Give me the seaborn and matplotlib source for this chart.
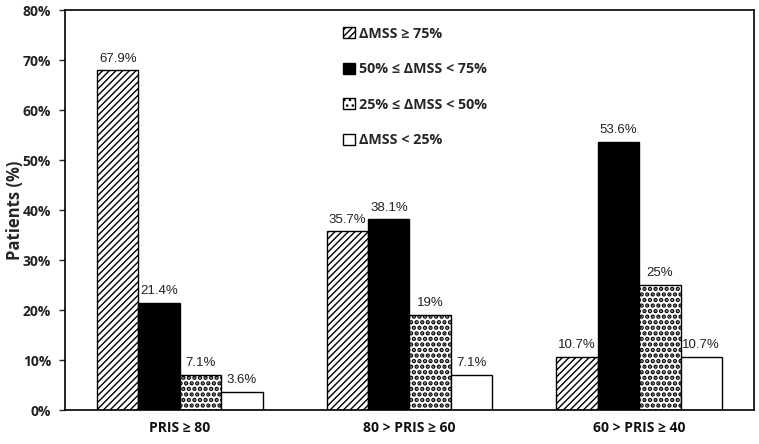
import matplotlib
matplotlib.use("Agg")
import matplotlib.pyplot as plt
import seaborn as sns
import pandas as pd
from matplotlib.patches import Patch
from matplotlib.ticker import FuncFormatter

categories = ["PRIS ≥ 80", "80 > PRIS ≥ 60", "60 > PRIS ≥ 40"]
series = ["ΔMSS ≥ 75%", "50% ≤ ΔMSS < 75%", "25% ≤ ΔMSS < 50%", "ΔMSS < 25%"]
v_ge75 = [67.9, 35.7, 10.7]
v_50_75 = [21.4, 38.1, 53.6]
v_25_50 = [7.1, 19.0, 25.0]
v_lt25 = [3.6, 7.1, 10.7]
labels_ge75 = ["67.9%", "35.7%", "10.7%"]
labels_50_75 = ["21.4%", "38.1%", "53.6%"]
labels_25_50 = ["7.1%", "19%", "25%"]
labels_lt25 = ["3.6%", "7.1%", "10.7%"]

vals = [v_ge75, v_50_75, v_25_50, v_lt25]
labs = [labels_ge75, labels_50_75, labels_25_50, labels_lt25]
rows = []
for s, vs in zip(series, vals):
    for c, v in zip(categories, vs):
        rows.append({"cat": c, "series": s, "val": v})
df = pd.DataFrame(rows)

sns.set_style("white")
plt.rcParams["hatch.linewidth"] = 1.0

fig = plt.figure(figsize=(7.59, 4.44), dpi=100)
ax = fig.add_axes([65/759, 34/444, 689/759, 400/444])

ax = sns.barplot(data=df, x="cat", y="val", hue="series", order=categories,
                 hue_order=series, palette=["white", "black", "white", "white"],
                 width=0.72, ax=ax, legend=False, saturation=1)

hatches = ["/////", None, "...", None]
hatch_lw = [1.0, 1.0, 2.2, 1.0]


def style_patch(p, h, hl):
    p.set_edgecolor("black")
    p.set_linewidth(1.0)
    if h:
        p.set_hatch(h)
        try:
            p.set_hatch_linewidth(hl)
        except Exception:
            pass


for cont, h, hl, lab in zip(ax.containers, hatches, hatch_lw, labs):
    for bar in cont:
        style_patch(bar, h, hl)
    ax.bar_label(cont, labels=lab, padding=4, fontsize=9.5,
                 family="Liberation Sans", color="#222222")

ax.set_ylim(0, 80)
ax.set_xlim(-0.5, 2.5)
ax.set_yticks(range(0, 81, 10))
ax.yaxis.set_major_formatter(FuncFormatter(lambda v, p: f"{int(v)}%"))
ax.tick_params(axis="y", direction="out", length=4, width=1, left=True,
               labelsize=10, pad=6)
ax.tick_params(axis="x", length=0, labelsize=10, pad=8)
for t in ax.get_yticklabels():
    t.set_fontweight("bold")
    t.set_family("Open Sans")
    t.set_color("#222222")
for t in ax.get_xticklabels():
    t.set_fontweight("bold")
    t.set_family("Open Sans")
    t.set_color("#111111")
ax.set_xlabel("")
ax.set_ylabel("Patients (%)", fontsize=12, fontweight="bold", family="Open Sans")
ax.yaxis.set_label_coords(-0.06, 0.5)
for sp in ax.spines.values():
    sp.set_color("black")
    sp.set_linewidth(1.2)

handles = []
for s, fc, h, hl in zip(series, ["white", "black", "white", "white"], hatches, hatch_lw):
    p = Patch(facecolor=fc, label=s)
    style_patch(p, h, hl)
    handles.append(p)
leg = ax.legend(handles=handles, loc="upper left", bbox_to_anchor=(0.385, 0.99),
                frameon=False, handlelength=0.8, handleheight=0.8,
                labelspacing=1.5, handletextpad=0.3,
                prop={"family": "Open Sans", "weight": "bold", "size": 10.3})

fig.savefig("out.png", dpi=100)
